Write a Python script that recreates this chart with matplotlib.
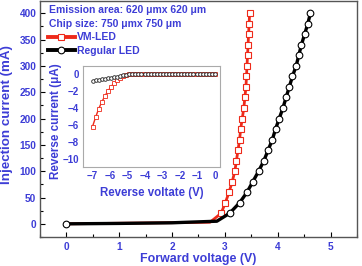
import numpy as np
import matplotlib
matplotlib.use("Agg")
import matplotlib.pyplot as plt
from matplotlib.ticker import MultipleLocator

plt.rcParams['font.family'] = ['Liberation Sans', 'DejaVu Sans']
plt.rcParams['font.weight'] = 'bold'

BLUE = '#3d3dd6'
TICKFONT = ['Liberation Sans Narrow', 'Liberation Sans', 'DejaVu Sans']

# Main chart data (forward I-V)
vm_v = [0.0, 2.72, 2.93, 3.01, 3.08, 3.14, 3.19, 3.22, 3.25, 3.28, 3.30, 3.33,
        3.36, 3.38, 3.40, 3.41, 3.42, 3.43, 3.44, 3.45, 3.46, 3.47]
vm_i = [0, 3, 20, 40, 60, 80, 100, 120, 140, 160, 180, 200,
        220, 240, 260, 280, 300, 320, 340, 360, 380, 400]
vm_marks = list(range(2, len(vm_v)))

reg_v = [0.0, 1.0, 2.0, 2.85, 3.09, 3.28, 3.42, 3.53, 3.64, 3.74, 3.82, 3.90,
         3.96, 4.03, 4.10, 4.16, 4.22, 4.28, 4.35, 4.40, 4.45, 4.51, 4.57, 4.62]
reg_i = [0, 0.8, 2, 5, 20, 40, 60, 80, 100, 120, 140, 160,
         180, 200, 220, 240, 260, 280, 300, 320, 340, 360, 380, 400]
reg_marks = [0] + list(range(4, len(reg_v)))

# Inset data (reverse I-V)
rev_v = np.linspace(-7, 0, 41)
vm_rev_i = [-6.2, -5.1, -4.1, -3.3, -2.6, -2.0, -1.5, -1.05, -0.7, -0.4, -0.2, -0.05, 0.0,
            0, 0, 0, 0, 0, 0, 0, 0, 0, 0, 0, 0, 0, 0, 0, 0, 0, 0, 0, 0, 0, 0, 0, 0, 0, 0, 0, 0]
reg_rev_i = [-0.75, -0.70, -0.65, -0.59, -0.53, -0.47, -0.41, -0.34, -0.27, -0.20, -0.13, -0.06, 0.0,
             0, 0, 0, 0, 0, 0, 0, 0, 0, 0, 0, 0, 0, 0, 0, 0, 0, 0, 0, 0, 0, 0, 0, 0, 0, 0, 0, 0]

fig = plt.figure(figsize=(3.62, 2.66), dpi=100)
ax = fig.add_axes([0.110, 0.109, 0.876, 0.887])

ax.plot(vm_v, vm_i, color='#ee2a1a', lw=2.0, marker='s', ms=4.3, mfc='white',
        mec='#ee2a1a', mew=0.8, markevery=vm_marks, label='VM-LED', zorder=3)
ax.plot(reg_v, reg_i, color='black', lw=2.4, marker='o', ms=4.8, mfc='white',
        mec='black', mew=0.8, markevery=reg_marks, label='Regular LED', zorder=4)

ax.set_xlim(-0.5, 5.5)
ax.set_ylim(-25, 423)
ax.xaxis.set_major_locator(MultipleLocator(1))
ax.xaxis.set_minor_locator(MultipleLocator(0.5))
ax.yaxis.set_major_locator(MultipleLocator(50))
ax.yaxis.set_minor_locator(MultipleLocator(25))
ax.tick_params(which='both', direction='in', labelcolor=BLUE, labelsize=7.3, width=0.8)
ax.tick_params(which='major', length=3.5)
ax.tick_params(which='minor', length=2)
ax.tick_params(axis='x', pad=3.5)
ax.tick_params(axis='y', pad=2.5)
for lbl in ax.get_xticklabels() + ax.get_yticklabels():
    lbl.set_fontweight('bold')
    lbl.set_family(TICKFONT)
for s in ax.spines.values():
    s.set_color('#555555')
    s.set_linewidth(1.0)
ax.set_xlabel('Forward voltage (V)', color=BLUE, fontsize=8.9, fontweight='bold', labelpad=0.5)
ax.set_ylabel('Injection current (mA)', color=BLUE, fontsize=9.6, fontweight='bold')
ax.yaxis.set_label_coords(-0.083, 0.521)

ax.text(0.028, 0.962, 'Emission area: 620 \u03bcmx 620 \u03bcm', transform=ax.transAxes,
        color=BLUE, fontsize=7.5, fontweight='bold', va='center', ha='left')
ax.text(0.028, 0.903, 'Chip size: 750 \u03bcmx 750 \u03bcm', transform=ax.transAxes,
        color=BLUE, fontsize=7.5, fontweight='bold', va='center', ha='left')
leg = ax.legend(loc='center left', bbox_to_anchor=(0.0, 0.8175), frameon=False,
                fontsize=7.5, handlelength=2.6, handletextpad=0.2, labelspacing=0.35,
                borderaxespad=0.3, borderpad=0.45)
for t in leg.get_texts():
    t.set_color(BLUE)
    t.set_fontweight('bold')
for h in leg.get_lines():
    h.set_linewidth(2.8)

# Inset
ins = fig.add_axes([0.229, 0.372, 0.379, 0.380])
ins.plot(rev_v, vm_rev_i, color='#ee2a1a', lw=1.0, marker='s', ms=2.6, mfc='white',
         mec='#ee2a1a', mew=0.6, zorder=3)
ins.plot(rev_v, reg_rev_i, color='#222222', lw=0.8, marker='o', ms=2.6, mfc='white',
         mec='#222222', mew=0.6, zorder=4)
ins.set_xlim(-7.55, 0.3)
ins.set_ylim(-11, 1)
ins.xaxis.set_major_locator(MultipleLocator(1))
ins.yaxis.set_major_locator(MultipleLocator(2))
ins.tick_params(which='both', direction='in', labelcolor=BLUE, labelsize=7, length=0, pad=3)
for lbl in ins.get_xticklabels() + ins.get_yticklabels():
    lbl.set_fontweight('bold')
    lbl.set_family(TICKFONT)
for s in ins.spines.values():
    s.set_color('#aaaaaa')
    s.set_linewidth(0.8)
ins.set_xlabel('Reverse voltate (V)', color=BLUE, fontsize=8.3, fontweight='bold', labelpad=4.5)
ins.set_ylabel('Reverse current (\u03bcA)', color=BLUE, fontsize=8.4, fontweight='bold')
ins.yaxis.set_label_coords(-0.155, 0.45)

fig.savefig('out.png', dpi=100)
